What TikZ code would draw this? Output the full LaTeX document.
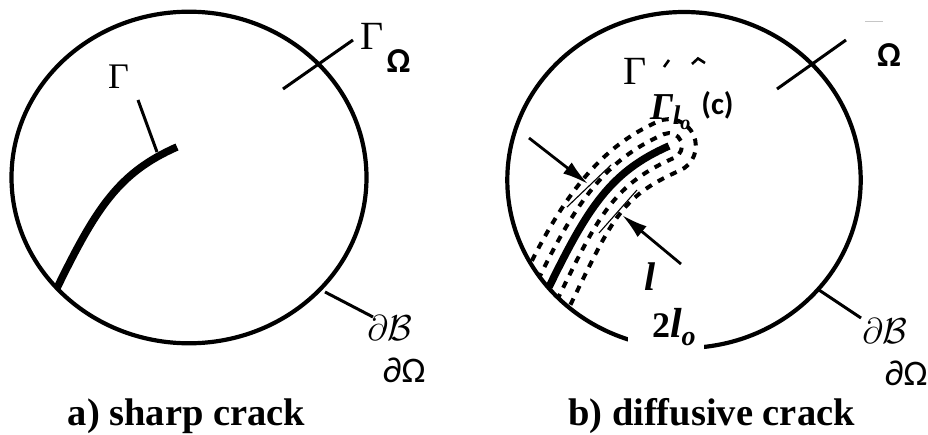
\RequirePackage{fix-cm}
\documentclass[tikz,border=0pt]{standalone}
\usepackage{amsmath}
\usepackage{fontspec}
\newfontfamily\carl{Carlito}
\newfontfamily\tnr{Liberation Serif}
\usetikzlibrary{arrows.meta,calc}
\tikzset{
  rim/.style={line width=4.2pt},
  leader/.style={line width=3pt},
  crackline/.style={line width=7.5pt},
  halo/.style={line width=4pt, dash pattern=on 7pt off 7pt},
  thinmark/.style={line width=1.1pt},
  pointer/.style={line width=2.8pt, -{Latex[length=26pt,width=14pt]}},
  lbl/.style={inner sep=0pt, outer sep=0pt},
  omegafont/.style={font=\carl\bfseries\fontsize{35}{38}\selectfont},
  bdfont/.style={font=\carl\fontsize{36}{40}\selectfont},
  mathfont/.style={font=\fontsize{36}{40}\selectfont},
  serif/.style={font=\tnr\fontsize{36}{40}\selectfont},
  capfont/.style={font=\tnr\bfseries\fontsize{38.5}{44}\selectfont},
  bimath/.style={font=\tnr\bfseries\fontsize{36}{40}\selectfont},
}
\begin{document}
\begin{tikzpicture}[x=1pt,y=-1pt]
\useasboundingbox (0,0) rectangle (928,435);

% ---------------- a) sharp crack ----------------
\draw[rim] (189,177.5) ellipse [x radius=177.5, y radius=165.8];
\coordinate (a0) at (57,288);
\coordinate (a3) at (177,147);
\draw[crackline] (a0) .. controls (96.4,207.4) and (119,172.5) .. (a3);
\node[lbl, serif] (gam) at (118.5,76.5) {Γ};
\coordinate (gamfoot) at (157,152);
\coordinate (gamtop) at (138,100);
\draw[leader] (gamtop) -- (gamfoot);
\coordinate (omA1) at (283,89);
\coordinate (omA2) at (353,40);
\draw[leader] (omA1) -- (omA2);
\node[lbl, font=\tnr\fontsize{40}{44}\selectfont] (gfragA) at (372,36.5) {Γ};
\node[lbl, omegafont] (omA) at (398.5,61) {Ω};
\coordinate (bA1) at (325,292);
\coordinate (bA2) at (373,317);
\draw[leader] (bA1) -- (bA2);
\node[lbl, mathfont] (dBA) at (390,327.5) {$\partial\mathcal{B}$};
\node[lbl, bdfont] (dOA) at (404,370.5) {∂Ω};
\node[lbl, capfont, anchor=base] (capA) at (186.5,425) {a) sharp crack};

% ---------------- b) diffusive crack ----------------
\draw[rim] (684,180) ellipse [x radius=176.7, y radius=168];
\coordinate (P0) at (549,287);
\coordinate (C1) at (588.4,206.4);
\coordinate (C2) at (611,171.5);
\coordinate (P3) at (669,146);
\begin{scope}
\clip (684,180) ellipse [x radius=176.7, y radius=168];
\foreach \dd in {13,27}{
  \pgfmathsetmacro\kk{0.5523*\dd}
  \draw[halo]
    ($(P0)+\dd*(-0.9,-0.44)-40*(0.44,-0.9)$) -- ($(P0)+\dd*(-0.9,-0.44)$)
    .. controls ($(C1)+\dd*(-0.9,-0.44)$) and ($(C2)+\dd*(-0.4,-0.91)$) .. ($(P3)+\dd*(-0.4,-0.91)$)
    .. controls ($(P3)+\dd*(-0.4,-0.91)+\kk*(0.91,-0.4)$) and ($(P3)+\dd*(0.91,-0.4)+\kk*(-0.4,-0.91)$) .. ($(P3)+\dd*(0.91,-0.4)$)
    .. controls ($(P3)+\dd*(0.91,-0.4)-\kk*(-0.4,-0.91)$) and ($(P3)-\dd*(-0.4,-0.91)+\kk*(0.91,-0.4)$) .. ($(P3)-\dd*(-0.4,-0.91)$)
    .. controls ($(C2)-\dd*(-0.4,-0.91)$) and ($(C1)-\dd*(-0.9,-0.44)$) .. ($(P0)-\dd*(-0.9,-0.44)$)
    -- ($(P0)-\dd*(-0.9,-0.44)-40*(0.44,-0.9)$);
}
\end{scope}
\draw[crackline] (P0) .. controls (C1) and (C2) .. (P3);
% thin marks at the arrow tips
\coordinate (tL1) at (567,207);
\coordinate (tL2) at (611,165);
\coordinate (tR1) at (599,233);
\coordinate (tR2) at (637,190);
\draw[thinmark] (tL1) -- (tL2);
\draw[thinmark] (tR1) -- (tR2);
% arrows
\coordinate (arL1) at (529,138);
\coordinate (arL2) at (588,184);
\coordinate (arR1) at (681,264);
\coordinate (arR2) at (622,215);
\draw[pointer] (arL1) -- (arL2);
\draw[pointer] (arR1) -- (arR2);
% labels
\node[lbl, font=\tnr\bfseries\itshape\fontsize{40}{44}\selectfont] (ell) at (650,277) {l};
\fill[white] (628,311) rectangle (704,352);
\node[lbl, bimath, anchor=base west] (twol) at (652,337) {2\fontsize{42}{44}\selectfont\textit{l}\raisebox{-0.2em}{\itshape\fontsize{28}{30}\selectfont o}};
\node[lbl, font=\tnr\fontsize{40}{44}\selectfont] (gfragB) at (635,71.5) {Γ};
\coordinate (mk1a) at (664,67);
\coordinate (mk1b) at (669,60);
\draw[line width=2.6pt] (mk1a) -- (mk1b);
\coordinate (mk2a) at (692,64);
\coordinate (mk2b) at (698,58.5);
\coordinate (mk2c) at (705,63);
\draw[line width=2.6pt] (mk2a) -- (mk2b) -- (mk2c);
\node[lbl, bimath, anchor=base west, font=\tnr\bfseries\itshape\fontsize{38}{42}\selectfont] (gamlo) at (650,120) {Γ\raisebox{-0.12em}{\fontsize{27}{30}\selectfont l\raisebox{-0.2em}{\fontsize{20}{22}\selectfont o}}};
\node[lbl, font=\carl\bfseries\fontsize{31}{34}\selectfont] (cc) at (717.5,105.5) {(c)};
\coordinate (omB1) at (777,89);
\coordinate (omB2) at (846,40);
\draw[leader] (omB1) -- (omB2);
\coordinate (gr1) at (865,21.5);
\coordinate (gr2) at (883,21.5);
\draw[gray!45, line width=1.2pt] (gr1) -- (gr2);
\node[lbl, omegafont] (omB) at (889,55) {Ω};
\coordinate (bB1) at (819,290);
\coordinate (bB2) at (861,318);
\draw[leader] (bB1) -- (bB2);
\node[lbl, mathfont] (dBB) at (885,330.5) {$\partial\mathcal{B}$};
\node[lbl, bdfont] (dOB) at (906,373.5) {∂Ω};
\node[lbl, capfont, anchor=base] (capB) at (711.5,425) {b) diffusive crack};
\end{tikzpicture}
\end{document}
